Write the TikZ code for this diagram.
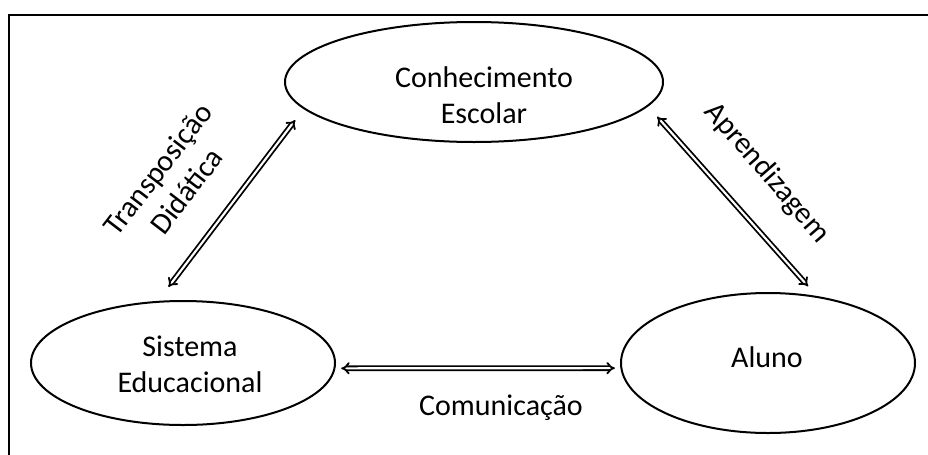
\documentclass[tikz,border=0pt]{standalone}
\usepackage{fontspec}
\setmainfont{Carlito}
\usetikzlibrary{shapes.geometric,arrows.meta}

\begin{document}
\begin{tikzpicture}[x=0.75pt,y=-0.75pt,
    bubble/.style={draw, ellipse, line width=1.5pt, inner sep=0pt},
    lbl/.style={font=\fontsize{22.5}{27}\selectfont, align=center, inner sep=0pt},
    dbl/.style={double, double distance=1.6pt, line width=1.35pt, {Implies[length=6pt]}-{Implies[length=6pt]}}]
    \useasboundingbox (0,0) rectangle (928,454);
    % Frame
    \draw[line width=2.2pt, line join=miter] (9,470) -- (9,15) -- (945,15);

    % Ellipses
    \node[bubble, minimum width=283.5pt, minimum height=90pt] (con) at (474,82) {};
    \node[bubble, minimum width=228pt, minimum height=93pt] (sis) at (183,363) {};
    \node[bubble, minimum width=220.5pt, minimum height=105pt] (alu) at (768,363) {};
    % Texts in the ellipses
    \node[lbl] (con-t) at (484,95) {Conhecimento\\Escolar};
    \node[lbl] (sis-t) at (190,364) {Sistema\\Educacional};
    \node[lbl] (alu-t) at (767,357) {Aluno};

    % Double arrows
    \draw[dbl, shorten <=13.1pt, shorten >=10.4pt] (sis.112.8) -- (con.189.1);
    \draw[dbl, shorten <=10.3pt, shorten >=9.7pt] (con.352.6) -- (alu.54.4);
    \draw[dbl, shorten <=4.3pt, shorten >=4.1pt] (sis.-2.27) -- (alu.182.35);

    % Arrow labels
    \node[lbl, rotate=52.5] (td) at (172,180) {Transposição\\Didática};
    \node[lbl, rotate=-49] (apr) at (767,173) {Aprendizagem};
    \node[lbl] (com) at (501,408) {Comunicação};
\end{tikzpicture}
\end{document}
